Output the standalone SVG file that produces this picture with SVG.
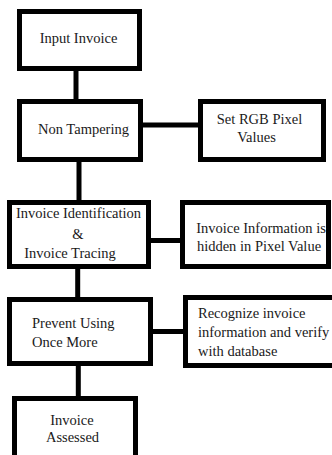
<svg xmlns="http://www.w3.org/2000/svg" width="332" height="455" viewBox="0 0 332 455">
  <style>
    .box { fill: #ffffff; stroke: #000000; stroke-width: 5; }
    .link { stroke: #000000; stroke-width: 5; fill: none; }
    text { font-family: "Liberation Serif", "Times New Roman", serif; font-size: 14.5px; fill: #1a1a1a; }
    .c { text-anchor: middle; }
  </style>
  <rect width="332" height="455" fill="#ffffff"/>

  <g id="connectors">
    <line class="link" x1="76" y1="71" x2="76" y2="99"/>
    <line class="link" x1="143" y1="125" x2="198" y2="125"/>
    <line class="link" x1="79" y1="162" x2="79" y2="200"/>
    <line class="link" x1="151" y1="240.5" x2="180" y2="240.5"/>
    <line class="link" x1="77.7" y1="269" x2="77.7" y2="297"/>
    <line class="link" x1="153" y1="331.5" x2="183" y2="331.5"/>
    <line class="link" x1="78.3" y1="366" x2="78.3" y2="397"/>
  </g>

  <g id="input-invoice">
    <rect class="box" x="19.5" y="11.5" width="120" height="57"/>
    <text class="c" x="78.5" y="43">Input Invoice</text>
  </g>

  <g id="non-tampering">
    <rect class="box" x="19.5" y="101.5" width="121" height="58"/>
    <text class="c" x="83.5" y="134">Non Tampering</text>
  </g>

  <g id="set-rgb">
    <rect class="box" x="200.5" y="101.5" width="123" height="58"/>
    <text class="c" x="259.5" y="124">Set RGB Pixel</text>
    <text class="c" x="256.5" y="142">Values</text>
  </g>

  <g id="identification">
    <rect class="box" x="9.5" y="202.5" width="139" height="64"/>
    <text class="c" x="78.5" y="218">Invoice Identification</text>
    <text class="c" x="78" y="239">&amp;</text>
    <text class="c" x="70" y="258">Invoice Tracing</text>
  </g>

  <g id="hidden-info">
    <rect class="box" x="182.5" y="202.5" width="146" height="64"/>
    <text class="c" x="261" y="233">Invoice Information is</text>
    <text class="c" x="259" y="251">hidden in Pixel Value</text>
  </g>

  <g id="prevent-reuse">
    <rect class="box" x="9.5" y="299.5" width="141" height="64"/>
    <text x="32" y="328">Prevent Using</text>
    <text x="32" y="347">Once More</text>
  </g>

  <g id="recognize">
    <rect class="box" x="185.5" y="297.5" width="150" height="68"/>
    <text x="198" y="318">Recognize invoice</text>
    <text x="198" y="337">information and verify</text>
    <text x="198" y="356">with database</text>
  </g>

  <g id="assessed">
    <rect class="box" x="14.5" y="398.5" width="121" height="80"/>
    <text class="c" x="72" y="425">Invoice</text>
    <text class="c" x="72.5" y="442">Assessed</text>
  </g>
</svg>
